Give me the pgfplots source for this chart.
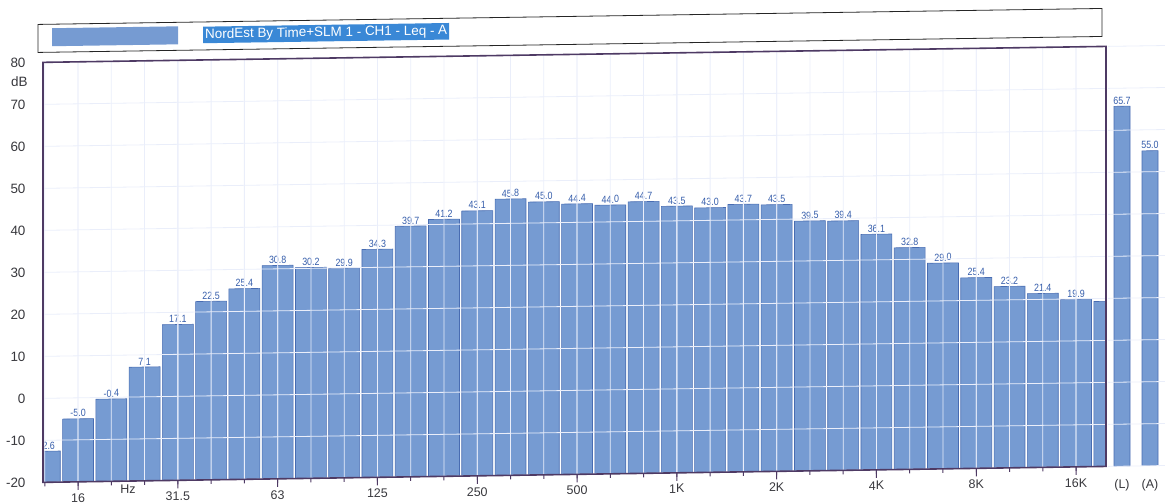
\documentclass[border=0pt]{standalone}
\usepackage{fontspec}
\setmainfont{Liberation Sans}
\newfontfamily\narrowfont[FakeStretch=0.85]{Liberation Sans}
\usepackage{pgfplots}
\pgfplotsset{compat=1.18}
\usepackage{pgfplotstable}

\definecolor{barfill}{RGB}{118,155,210}
\definecolor{baredge}{RGB}{72,108,178}
\definecolor{valtext}{RGB}{52,92,170}
\definecolor{framec}{RGB}{78,58,100}
\definecolor{gridc}{RGB}{234,238,250}
\definecolor{hilite}{RGB}{58,136,214}
\definecolor{ticktext}{RGB}{55,55,60}

% one-third-octave band levels in dB, 12.5 Hz (idx 0) to 20 kHz (idx 32)
\pgfplotstableread{
idx level
0 -12.6
1 -5.0
2 -0.4
3 7.1
4 17.1
5 22.5
6 25.4
7 30.8
8 30.2
9 29.9
10 34.3
11 39.7
12 41.2
13 43.1
14 45.8
15 45.0
16 44.4
17 44.0
18 44.7
19 43.5
20 43.0
21 43.7
22 43.5
23 39.5
24 39.4
25 36.1
26 32.8
27 29.0
28 25.4
29 23.2
30 21.4
31 19.9
32 19.3
}\bands

% overall levels: linear (L) and A-weighted (A)
\pgfplotstableread{
pos level
1122 65.7
1150 55.0
}\overall

\pgfplotsset{
  levelaxis/.style={
    scale only axis, height=420bp,
    ymin=0, ymax=100,
    % bars stand on the -20 dB floor
    y filter/.expression={y+20},
    ytick={0,10,...,100},
    ymajorgrids,
    grid style={gridc, line width=0.8bp},
    axis on top,
    tick label style={text=ticktext},
  },
  levelbars/.style={
    ybar, bar shift=0pt,
    fill=barfill, draw=baredge, line width=0.6bp,
    point meta=rawy,
    nodes near coords,
    every node near coord/.append style={
      font=\narrowfont\fontsize{10.5}{11}\selectfont, text=valtext,
      inner sep=1.6bp, anchor=south},
    nodes near coords style={/pgf/number format/.cd, fixed, fixed zerofill,
      precision=1, assume math mode=true},
  },
}

\begin{document}
\begin{tikzpicture}
\useasboundingbox (0,0) rectangle (1165bp,503bp);
\begin{scope}[transform canvas={yslant=0.015}]

% title / legend strip
\draw[black!85, line width=0.8bp] (38bp,450bp) rectangle (1102bp,478bp);
\fill[barfill] (52bp,456bp) rectangle (178bp,474bp);
\node[fill=hilite, text=white, inner xsep=2bp, inner ysep=2bp, anchor=west,
      font=\fontsize{13.5}{15}\selectfont] at (203bp,465bp)
      {NordEst By Time+SLM 1 - CH1 - Leq - A};

% band spectrum
\begin{axis}[
  levelaxis,
  at={(43bp,20bp)}, anchor=south west, width=1063bp,
  xmin=-0.054, xmax=31.9,
  yticklabels={-20,-10,0,10,20,30,40,50,60,70,80},
  yticklabel style={font=\fontsize{13.5}{15}\selectfont, xshift=-6bp},
  ytick style={draw=none},
  xtick={1,4,7,10,13,16,19,22,25,28,31},
  xticklabels={16,31.5,63,125,250,500,1K,2K,4K,8K,16K},
  minor xtick={0,1,...,32},
  extra x ticks={2.5},
  extra x tick labels={Hz},
  extra x tick style={major tick length=0pt, xmajorgrids=false},
  xticklabel style={font=\fontsize{12.5}{14}\selectfont, yshift=0bp},
  xmajorgrids, xminorgrids,
  xtick pos=bottom, tick align=outside,
  major tick length=8bp, minor tick length=4bp,
  tick style={framec, line width=1bp},
  axis line style={framec, line width=1.6bp},
  clip marker paths=true,
]
\addplot[levelbars, bar width=0.93] table[x=idx, y=level] {\bands};
\end{axis}

% unit of the level scale
\node[anchor=east, text=ticktext, font=\fontsize{13.5}{15}\selectfont]
  at (31bp,421bp) {dB};

% overall levels
\begin{axis}[
  levelaxis,
  at={(1108bp,20bp)}, anchor=south west, width=57bp,
  xmin=1108, xmax=1165,
  yticklabels={},
  ytick style={draw=none},
  xtick={1122,1150},
  xticklabels={(L),(A)},
  xticklabel style={font=\fontsize{12.5}{14}\selectfont, yshift=-10bp},
  major tick length=0pt,
  axis line style={draw=none},
]
\addplot[levelbars, bar width=16] table[x=pos, y=level] {\overall};
\end{axis}

\end{scope}
\end{tikzpicture}
\end{document}
